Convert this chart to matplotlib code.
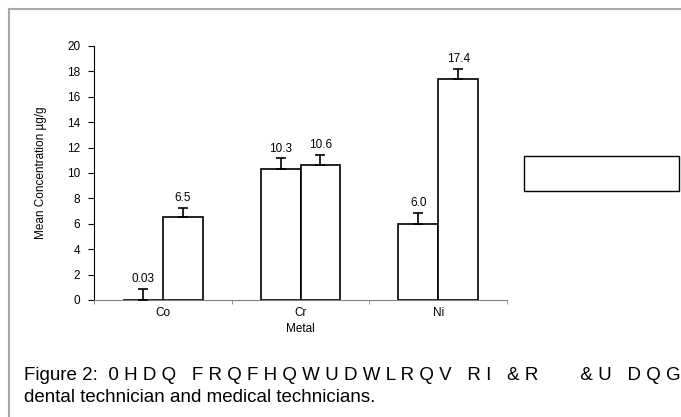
import numpy as np
import matplotlib
matplotlib.use("Agg")
import matplotlib.pyplot as plt
from matplotlib.patches import Rectangle
from matplotlib.lines import Line2D

metals = ["Co", "Cr", "Ni"]
dental = [0.03, 10.3, 6.0]
medical = [6.5, 10.6, 17.4]
dental_err = [0.85, 0.85, 0.85]
medical_err = [0.75, 0.8, 0.8]
dental_lbl = ["0.03", "10.3", "6.0"]
medical_lbl = ["6.5", "10.6", "17.4"]
yticks = [0, 2, 4, 6, 8, 10, 12, 14, 16, 18, 20]

W, H = 681, 417
fig = plt.figure(figsize=(W / 100, H / 100), dpi=100)
plt.rcParams['font.family'] = ['Liberation Sans', 'DejaVu Sans']

# axes: y axis at x=94, x axis at y=300, top (20) at y=46, right end x=507
ax = fig.add_axes([94 / W, 1 - 300 / H, (507 - 94) / W, (300 - 46) / H])

x = np.arange(len(metals))
bw = 0.29
for xs, vals, errs, lbls in [(x - bw / 2, dental, dental_err, dental_lbl),
                             (x + bw / 2, medical, medical_err, medical_lbl)]:
    ax.bar(xs, vals, bw, color="white", edgecolor="black", linewidth=1.2, zorder=2)
    ax.errorbar(xs, vals, yerr=[np.zeros(len(errs)), errs], fmt="none",
                ecolor="black", elinewidth=1.2, capsize=3.5, capthick=1.2, zorder=3)
    for xi, v, e, t in zip(xs, vals, errs, lbls):
        ax.text(xi, v + e + 0.3, t, ha="center", va="bottom", fontsize=8.5)

ax.set_xlim(-0.5, 2.5)
ax.set_ylim(0, 20)
ax.set_yticks(yticks)
ax.set_xticks(x)
ax.set_xticklabels(metals, fontsize=8.5)
ax.set_xticks([-0.5, 0.5, 1.5, 2.5], minor=True)
ax.tick_params(axis="x", which="major", length=0, pad=5)
ax.tick_params(axis="x", which="minor", length=3, color="#808080")
ax.tick_params(axis="y", labelsize=8.5, length=4, pad=6)
for s in ["top", "right"]:
    ax.spines[s].set_visible(False)
ax.spines["bottom"].set_color("#808080")
ax.spines["left"].set_color("black")
ax.set_xlabel("Metal", fontsize=8.5, labelpad=3)
ax.set_ylabel("Mean Concentration µg/g", fontsize=8.5, labelpad=14)

# empty legend box
fig.patches.append(Rectangle((524 / W, 1 - 191 / H), 155 / W, 35 / H,
                             transform=fig.transFigure, facecolor="white",
                             edgecolor="black", linewidth=1))

# page border lines
fig.lines.append(Line2D([9 / W, 1], [1 - 9 / H, 1 - 9 / H], transform=fig.transFigure,
                        color="#a8a8a8", linewidth=1.5))
fig.lines.append(Line2D([9 / W, 9 / W], [0, 1 - 9 / H], transform=fig.transFigure,
                        color="#a8a8a8", linewidth=1.5))

fig.text(24 / W, 1 - 376 / H,
         "Figure 2:  0 H D Q   F R Q F H Q W U D W L R Q V   R I   & R        & U   D Q G",
         fontsize=13.5, va="center", ha="left")
fig.text(24 / W, 1 - 397 / H, "dental technician and medical technicians.",
         fontsize=13.5, va="center", ha="left")

fig.savefig("out.png", dpi=100)
